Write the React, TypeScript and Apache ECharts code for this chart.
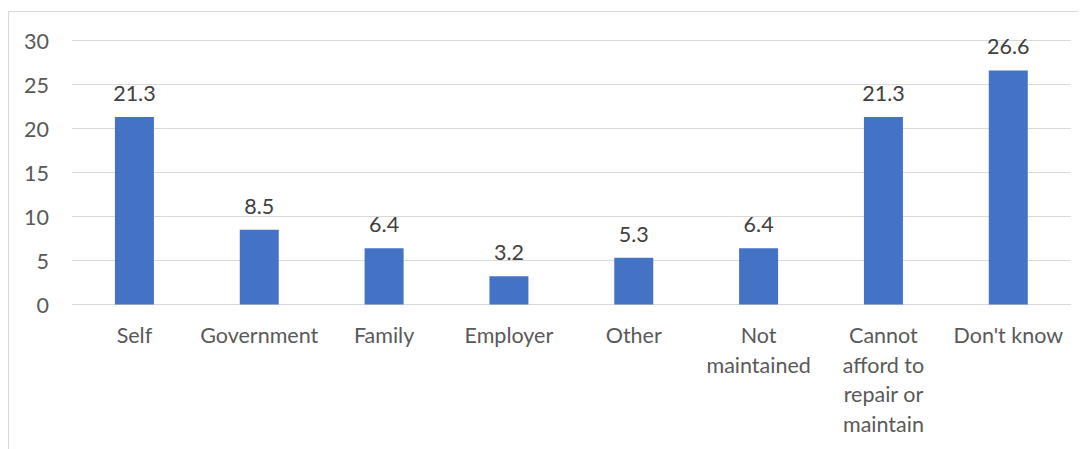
import React, { useEffect, useRef } from "react";
import * as echarts from "echarts";

const categories = [
  "Self",
  "Government",
  "Family",
  "Employer",
  "Other",
  "Not\nmaintained",
  "Cannot\nafford to\nrepair or\nmaintain",
  "Don't know",
];
const values = [21.3, 8.5, 6.4, 3.2, 5.3, 6.4, 21.3, 26.6];
const yMin = 0;
const yMax = 30;
const yStep = 5;

const FONT = "Lato, 'Open Sans', sans-serif";

export default function App() {
  const ref = useRef<HTMLDivElement>(null);
  useEffect(() => {
    if (!ref.current) return;
    const chart = echarts.init(ref.current, null, { renderer: "svg" });
    chart.setOption({
      animation: false,
      backgroundColor: "#ffffff",
      graphic: [
        { type: "line", shape: { x1: 0.5, y1: 3.5, x2: 1078, y2: 3.5 }, style: { stroke: "#d9d9d9", lineWidth: 1 } },
        { type: "line", shape: { x1: 0.5, y1: 3.5, x2: 0.5, y2: 441 }, style: { stroke: "#d9d9d9", lineWidth: 1 } },
      ],
      grid: { left: 64, top: 32.5, right: 15.3, bottom: 144.5, containLabel: false },
      xAxis: {
        type: "category",
        data: categories,
        axisLine: { show: true, lineStyle: { color: "#d9d9d9", width: 1 } },
        axisTick: { show: false },
        axisLabel: {
          interval: 0,
          color: "#595959",
          fontFamily: FONT,
          fontSize: 21.5,
          lineHeight: 29.5,
          margin: 16,
        },
      },
      yAxis: {
        type: "value",
        min: yMin,
        max: yMax,
        interval: yStep,
        axisLine: { show: false },
        axisTick: { show: false },
        splitLine: { lineStyle: { color: "#d9d9d9", width: 1 } },
        axisLabel: { color: "#595959", fontFamily: FONT, fontSize: 21.5, margin: 23 },
      },
      series: [
        {
          type: "bar",
          data: values,
          barWidth: 39,
          itemStyle: { color: "#4472c4" },
          label: {
            show: true,
            position: "top",
            distance: 13,
            color: "#404040",
            fontFamily: FONT,
            fontSize: 21.5,
          },
        },
      ],
    });
    return () => chart.dispose();
  }, []);
  return <div ref={ref} style={{ width: 1078, height: 441 }} />;
}
